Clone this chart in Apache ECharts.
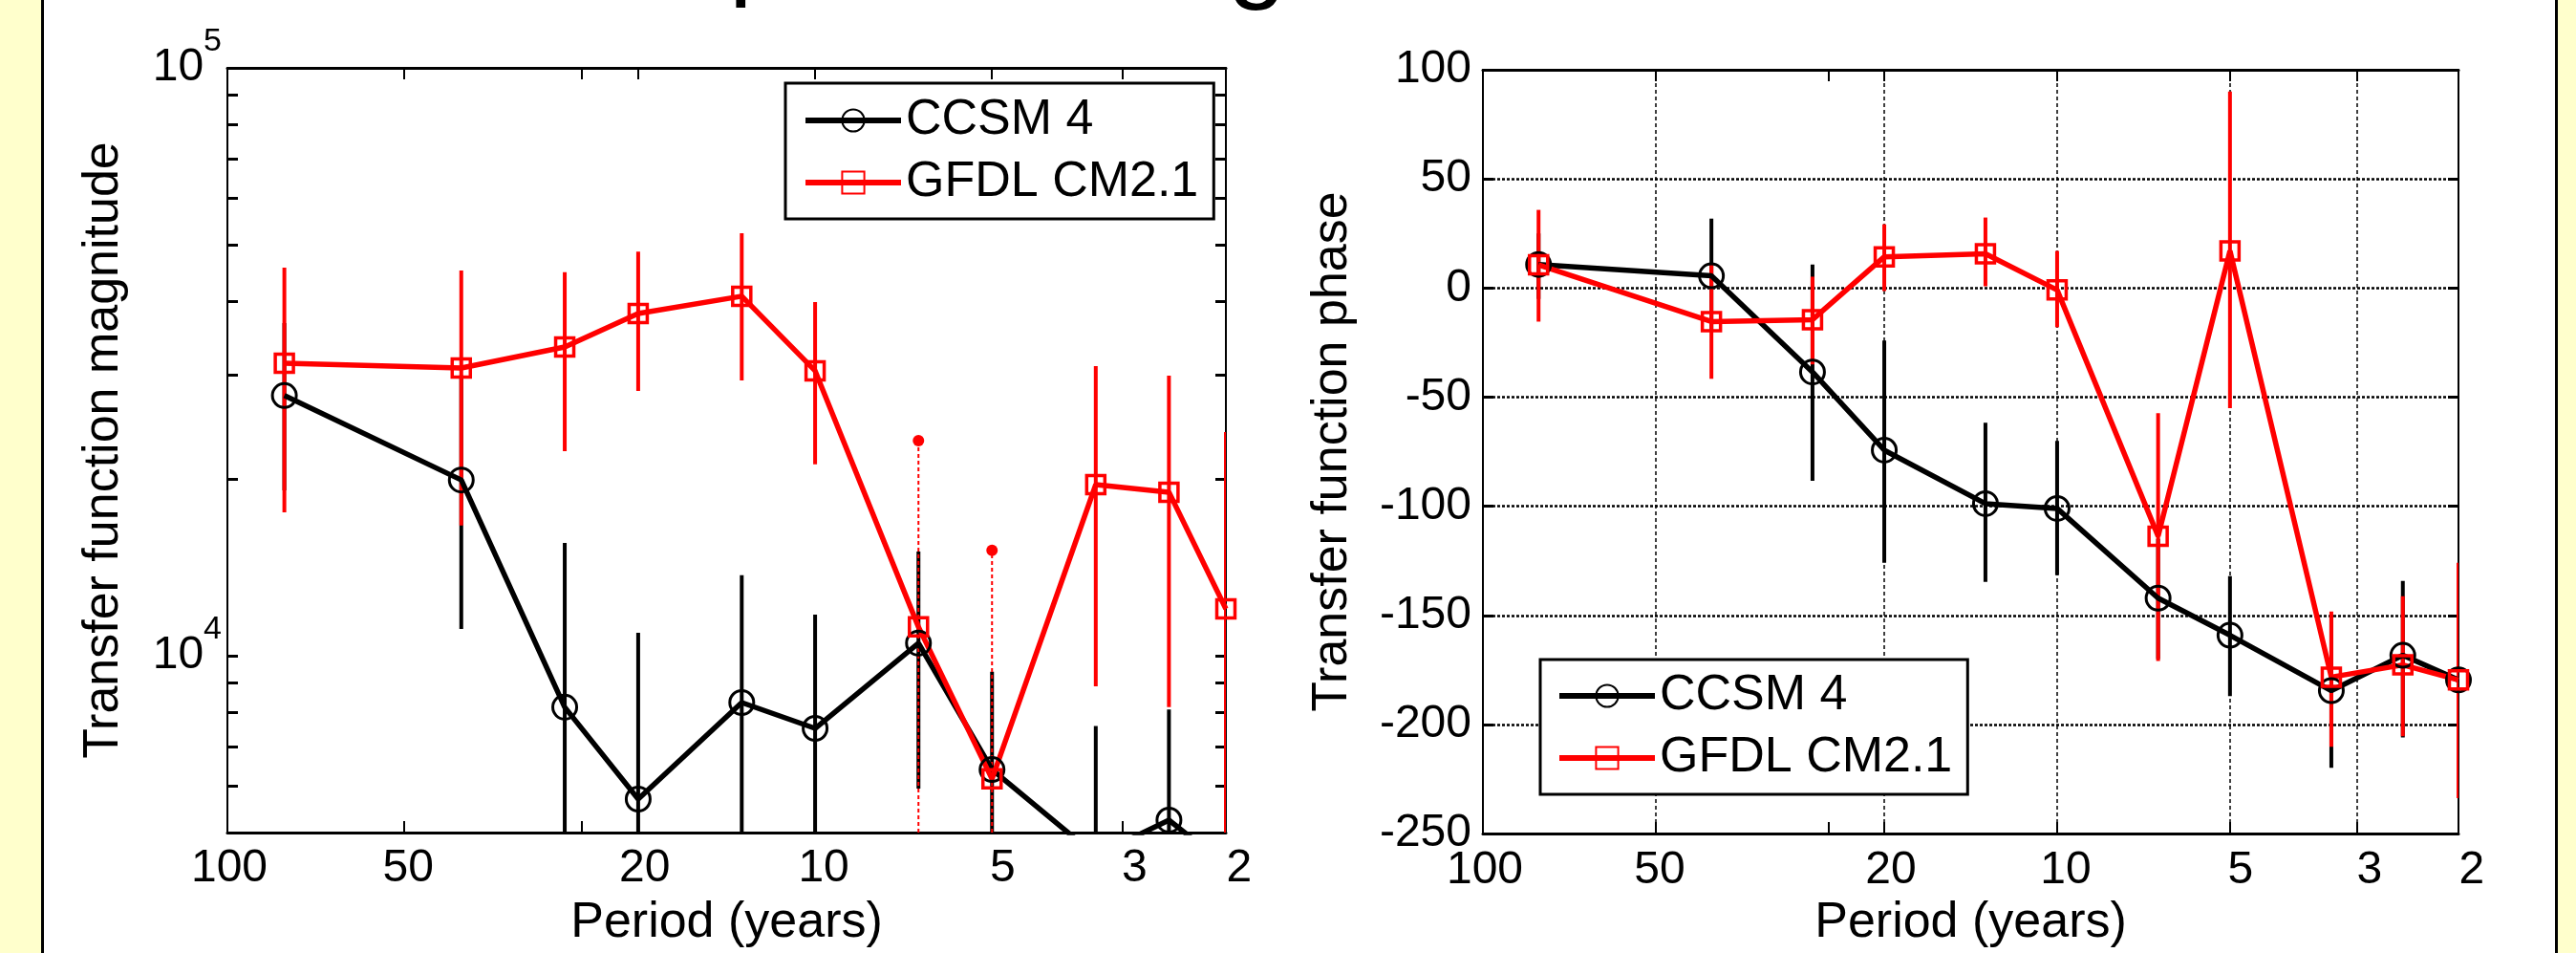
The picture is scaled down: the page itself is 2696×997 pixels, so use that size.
<!DOCTYPE html>
<html>
<head>
<meta charset="utf-8">
<script src="https://cdn.jsdelivr.net/npm/echarts@6/dist/echarts.min.js"></script>
<style>
html,body{margin:0;padding:0;background:#fff;}
#chart{width:2696px;height:997px;}
</style>
</head>
<body>
<div id="chart"></div>
<script>
// ---------------- data ----------------
const PERIODS = [80, 40, 26.67, 20, 13.33, 10, 6.67, 5, 3.33, 2.5, 2];

// transfer function magnitude
const CCSM_MAG    = [27700, 19900, 8170, 5700, 8320, 7520, 10500, 6400, 4570, 5250, 4400];
const CCSM_MAG_LO = [19100, 11100, 3000, 3000, 3000, 3000, 5940, 3000, 3000, 3000, 3000];
const CCSM_MAG_HI = [36800, 30000, 15550, 10940, 13700, 11740, 15040, 9390, 7590, 8100, 7000];
const GFDL_MAG    = [31450, 30850, 33500, 38200, 40880, 30520, 11190, 6170, 19540, 18970, 12010];
const GFDL_MAG_LO = [17530, 16650, 22280, 28200, 29380, 21150, 3000, 3000, 8870, 8170, 3000];
const GFDL_MAG_HI = [45700, 45200, 44900, 48700, 52340, 39950, 23220, 15100, 31100, 29940, 24020];

// transfer function phase
const CCSM_PH    = [10.8, 5.6, -38.5, -74.3, -98.8, -101, -142.1, -159.1, -184.5, -168.3, -179.6];
const CCSM_PH_LO = [-5, -20, -88.3, -125.9, -134.6, -131.6, -170, -187, -219.8, -205.9, -230];
const CCSM_PH_HI = [25, 31.8, 10.8, -24.1, -61.7, -70, -115, -132, -150, -134.2, -130];
const GFDL_PH    = [10.6, -15.4, -14.5, 14.3, 15.7, -0.9, -113.7, 17.0, -178.3, -172.7, -179.6];
const GFDL_PH_LO = [-15.4, -41.6, -35, -1.4, 0.8, -18, -170.9, -55.1, -210.2, -205.4, -233.8];
const GFDL_PH_HI = [35.8, 11.3, 5.2, 29.2, 32.3, 17, -57.3, 90, -148.2, -141.2, -125.9];

// axes / ticks
const PERIOD_MIN = 2, PERIOD_MAX = 100;
const X_TICK_LABELS = [100, 50, 20, 10, 5, 3, 2];
const X_TICK_MARKS = [100, 50, 25, 20, 10, 5, 3, 2];
const X_GRID_LINES = [50, 20, 10, 5, 3];
const MAG_MIN = 5000, MAG_MAX = 100000;
const MAG_TICKS = [6000, 7000, 8000, 9000, 10000, 20000, 30000, 40000, 50000, 60000, 70000, 80000, 90000, 100000];
const MAG_LABELS = [10000, 100000];
const PHASE_MIN = -250, PHASE_MAX = 100, PHASE_STEP = 50;
const NAMES = ['CCSM 4', 'GFDL CM2.1'];

// style only: GFDL magnitude bars drawn dotted with a dot on top
const GFDL_MAG_DOTTED = [false, false, false, false, false, false, true, true, false, false, false];

// ---------------- helpers ----------------
const FONT = '"Liberation Sans", Arial, Helvetica, sans-serif';
const LINE_W = 5.5;
const lg = Math.log10;
const zip2 = (x, y) => x.map((v, i) => [v, y[i]]);
const zip3 = (x, lo, hi) => x.map((v, i) => [v, lo[i], hi[i]]);

function errBar(color, dotted) {
  return function (params, api) {
    const x = api.value(0), lo = api.value(1), hi = api.value(2);
    const a = api.coord([x, lo]), b = api.coord([x, hi]);
    const cs = params.coordSys;
    const clamp = y => Math.max(cs.y, Math.min(cs.y + cs.height, y));
    const y1 = clamp(a[1]), y2 = clamp(b[1]);
    const isDot = dotted && dotted[params.dataIndex];
    const children = [{
      type: 'line',
      shape: { x1: a[0], y1: y1, x2: a[0], y2: y2 },
      style: { stroke: color, lineWidth: isDot ? 2 : 4, lineDash: isDot ? [4, 3] : null }
    }];
    if (isDot) children.push({ type: 'circle', shape: { cx: a[0], cy: y2, r: 6 }, style: { fill: color } });
    return { type: 'group', children: children };
  };
}

// slight rightward drift of MATLAB tick labels
const labelRich = {};
X_TICK_LABELS.forEach((p, i) => {
  const s = 2 + 7 * lg(PERIOD_MAX / p);
  labelRich['o' + i] = { fontSize: 48, fontFamily: FONT, color: '#000', padding: [0, 0, 0, 2 * s] };
});
function xLabelFmt(v) {
  const p = Math.round(Math.pow(10, v));
  const i = X_TICK_LABELS.indexOf(p);
  return '{o' + i + '|' + p + '}';
}

function xDeco(grid, pos, opts) {
  return Object.assign({
    gridIndex: grid, type: 'value', position: pos, inverse: true,
    min: lg(PERIOD_MIN), max: lg(PERIOD_MAX),
    axisLine: { show: true, onZero: false, lineStyle: { color: '#000', width: 3 } },
    axisTick: { show: true, inside: true, length: 12, lineStyle: { color: '#000', width: 2 }, customValues: X_TICK_MARKS.map(lg) },
    axisLabel: { show: false },
    splitLine: { show: false }
  }, opts || {});
}

function legendOpt(left, top, padding) {
  return {
    data: NAMES, orient: 'vertical', left: left, top: top, selectedMode: false,
    itemWidth: 100, itemHeight: 29, itemGap: 13,
    padding: padding,
    backgroundColor: '#fff', borderColor: '#000', borderWidth: 3,
    lineStyle: { width: 6 },
    textStyle: { fontSize: 52, fontFamily: FONT, color: '#000' }
  };
}

function lineSeries(name, xi, yi, values, color, symbol, size, bw) {
  return {
    type: 'line', name: name, xAxisIndex: xi, yAxisIndex: yi, data: zip2(PERIODS, values),
    symbol: symbol, symbolSize: size, showAllSymbol: true,
    lineStyle: { color: color, width: LINE_W },
    itemStyle: { color: 'rgba(0,0,0,0)', borderColor: color, borderWidth: bw },
    emphasis: { disabled: true }
  };
}

function barSeries(xi, yi, lo, hi, color, dotted) {
  return {
    type: 'custom', xAxisIndex: xi, yAxisIndex: yi, renderItem: errBar(color, dotted),
    encode: { x: 0, y: [1, 2] }, data: zip3(PERIODS, lo, hi), clip: true
  };
}

const option = {
  animation: false,
  backgroundColor: '#fff',
  textStyle: { fontFamily: FONT },
  graphic: [
    { type: 'rect', shape: { x: 0, y: 0, width: 43, height: 997 }, style: { fill: '#FFFFCC' } },
    { type: 'rect', shape: { x: 43, y: 0, width: 3, height: 997 }, style: { fill: '#000' } },
    { type: 'rect', shape: { x: 2677, y: 0, width: 19, height: 997 }, style: { fill: '#FFFFCC' } },
    { type: 'rect', shape: { x: 2674, y: 0, width: 3, height: 997 }, style: { fill: '#000' } },
    { type: 'text', x: 763, y: 10, style: { text: 'p', fontSize: 110, fontFamily: FONT, fill: '#000', verticalAlign: 'bottom' } },
    { type: 'text', x: 1285, y: 13, style: { text: 'g', fontSize: 110, fontFamily: FONT, fill: '#000', verticalAlign: 'bottom' } }
  ],
  grid: [
    { left: 238, top: 71, width: 1045, height: 801 },
    { left: 1552, top: 73, width: 1021, height: 801 }
  ],
  legend: [
    legendOpt(822, 87, [13, 16, 12, 18]),
    legendOpt(1612, 690, [12, 16, 12, 17])
  ],
  xAxis: [
    // 0: left data axis
    { gridIndex: 0, type: 'log', logBase: 10, min: PERIOD_MIN, max: PERIOD_MAX, inverse: true, show: false },
    // 1: left bottom decoration
    xDeco(0, 'bottom', {
      axisLabel: { show: true, customValues: X_TICK_LABELS.map(lg), formatter: xLabelFmt, rich: labelRich, margin: 14, color: '#000', fontSize: 48 },
      name: 'Period (years)', nameLocation: 'middle', nameGap: 69,
      nameTextStyle: { fontSize: 52, fontFamily: FONT, color: '#000' }
    }),
    // 2: left top
    xDeco(0, 'top'),
    // 3: right data axis
    { gridIndex: 1, type: 'log', logBase: 10, min: PERIOD_MIN, max: PERIOD_MAX, inverse: true, show: false },
    // 4: right bottom decoration
    xDeco(1, 'bottom', {
      axisLabel: { show: true, customValues: X_TICK_LABELS.map(lg), formatter: xLabelFmt, rich: labelRich, margin: 15, color: '#000', fontSize: 48 },
      name: 'Period (years)', nameLocation: 'middle', nameGap: 67,
      nameTextStyle: { fontSize: 52, fontFamily: FONT, color: '#000' }
    }),
    // 5: right top
    xDeco(1, 'top'),
    // 6: right vertical grid lines
    xDeco(1, 'bottom', {
      axisLine: { show: false, onZero: false },
      axisTick: { show: false, customValues: X_GRID_LINES.map(lg) },
      splitLine: { show: true, lineStyle: { color: '#000', width: 1.5, type: [4, 3] } }
    })
  ],
  yAxis: [
    // 0: left data axis (log)
    { gridIndex: 0, type: 'log', logBase: 10, min: MAG_MIN, max: MAG_MAX, show: false },
    // 1: left decoration with labels
    {
      gridIndex: 0, type: 'value', position: 'left', min: lg(MAG_MIN), max: lg(MAG_MAX),
      axisLine: { show: true, onZero: false, lineStyle: { color: '#000', width: 2 } },
      axisTick: { show: true, inside: true, length: 11, lineStyle: { color: '#000', width: 3 }, customValues: MAG_TICKS.map(lg) },
      axisLabel: {
        show: true, customValues: MAG_LABELS.map(lg), margin: 6,
        formatter: v => '{b|10}{s|' + Math.round(v) + '}',
        rich: {
          b: { fontSize: 48, fontFamily: FONT, color: '#000' },
          s: { fontSize: 34, fontFamily: FONT, color: '#000', padding: [0, 0, 54, 0] }
        }
      },
      splitLine: { show: false },
      name: 'Transfer function magnitude', nameLocation: 'middle', nameGap: 103,
      nameTextStyle: { fontSize: 52, fontFamily: FONT, color: '#000' }
    },
    // 2: left plot right border
    {
      gridIndex: 0, type: 'value', position: 'right', min: lg(MAG_MIN), max: lg(MAG_MAX),
      axisLine: { show: true, onZero: false, lineStyle: { color: '#000', width: 2 } },
      axisTick: { show: true, inside: true, length: 11, lineStyle: { color: '#000', width: 3 }, customValues: MAG_TICKS.map(lg) },
      axisLabel: { show: false }, splitLine: { show: false }
    },
    // 3: right data axis (phase)
    {
      gridIndex: 1, type: 'value', position: 'left', min: PHASE_MIN, max: PHASE_MAX, interval: PHASE_STEP,
      axisLine: { show: true, onZero: false, lineStyle: { color: '#000', width: 2 } },
      axisTick: { show: true, inside: true, length: 11, lineStyle: { color: '#000', width: 3 } },
      axisLabel: { show: true, margin: 12, fontSize: 48, fontFamily: FONT, color: '#000' },
      splitLine: { show: true, lineStyle: { color: '#000', width: 2.5, type: [3, 2] } },
      name: 'Transfer function phase', nameLocation: 'middle', nameGap: 131,
      nameTextStyle: { fontSize: 52, fontFamily: FONT, color: '#000' }
    },
    // 4: right plot right border
    {
      gridIndex: 1, type: 'value', position: 'right', min: PHASE_MIN, max: PHASE_MAX, interval: PHASE_STEP,
      axisLine: { show: true, onZero: false, lineStyle: { color: '#000', width: 2 } },
      axisTick: { show: true, inside: true, length: 11, lineStyle: { color: '#000', width: 3 } },
      axisLabel: { show: false }, splitLine: { show: false }
    }
  ],
  series: [
    // ---- magnitude ----
    barSeries(0, 0, CCSM_MAG_LO, CCSM_MAG_HI, '#000', null),
    lineSeries(NAMES[0], 0, 0, CCSM_MAG, '#000', 'circle', 25, 3),
    barSeries(0, 0, GFDL_MAG_LO, GFDL_MAG_HI, '#ff0000', GFDL_MAG_DOTTED),
    lineSeries(NAMES[1], 0, 0, GFDL_MAG, '#ff0000', 'rect', 19, 3.5),
    // ---- phase ----
    barSeries(3, 3, CCSM_PH_LO, CCSM_PH_HI, '#000', null),
    lineSeries(NAMES[0], 3, 3, CCSM_PH, '#000', 'circle', 25, 3),
    barSeries(3, 3, GFDL_PH_LO, GFDL_PH_HI, '#ff0000', null),
    lineSeries(NAMES[1], 3, 3, GFDL_PH, '#ff0000', 'rect', 19, 3.5)
  ]
};

const chart = echarts.init(document.getElementById('chart'), null, { renderer: 'canvas', width: 2696, height: 997 });
chart.setOption(option);
</script>
</body>
</html>
